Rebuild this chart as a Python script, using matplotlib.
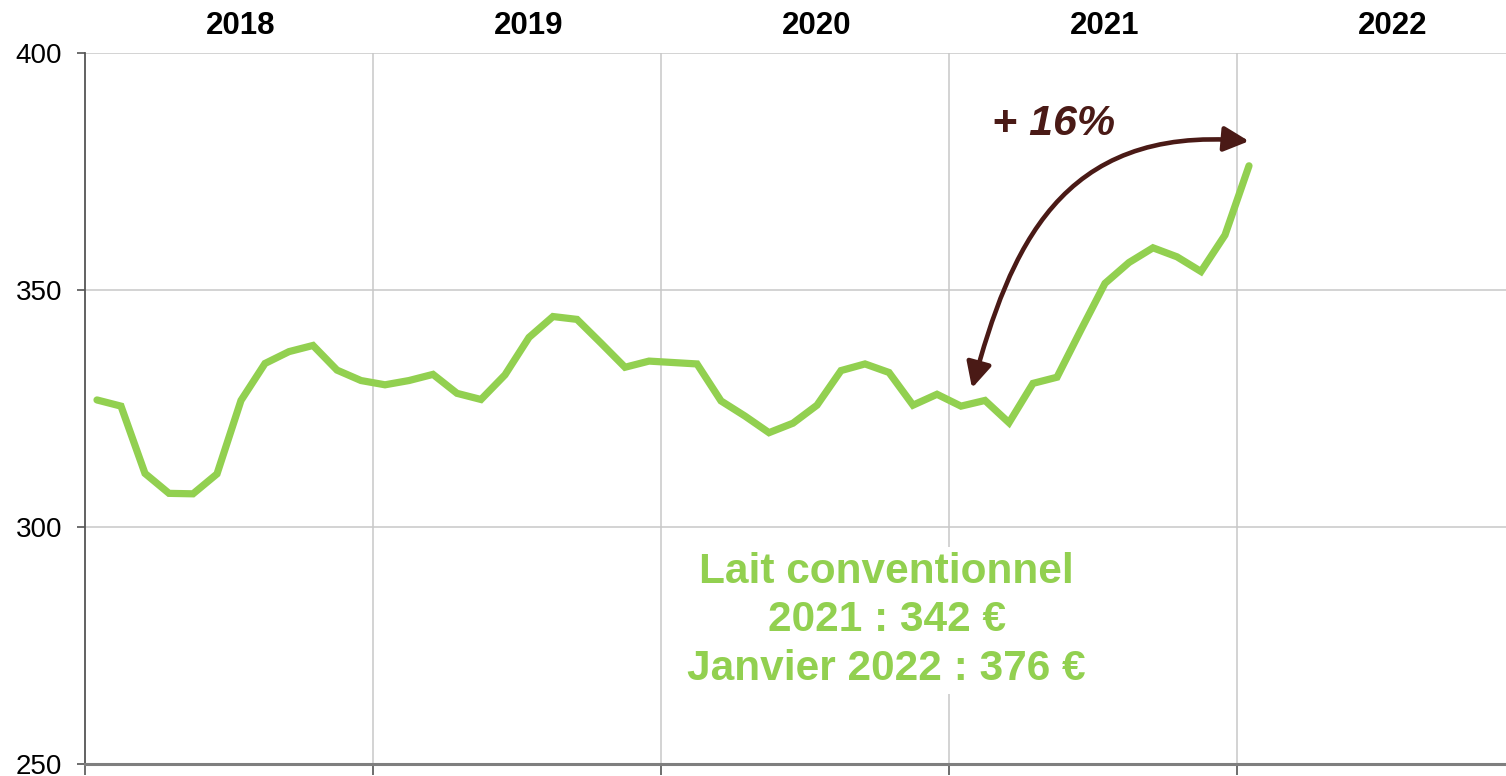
"""Monthly conventional milk price, 2018 - January 2022."""

from matplotlib import pyplot
from matplotlib.patches import FancyArrowPatch
from matplotlib.path import Path
import matplotlib.transforms as mtransforms


# Monthly price (EUR / 1000 L), January 2018 -> January 2022.
prices = [326.8, 325.5, 311.3, 307.1, 307.0, 311.2, 326.7, 334.5, 337.0,
          338.3, 333.1, 330.9,
          330.0, 330.9, 332.2, 328.2, 326.9, 332.1, 340.0, 344.4, 343.8,
          338.8, 333.7, 335.0,
          334.7, 334.4, 326.6, 323.4, 319.9, 321.9, 325.7, 333.0, 334.4,
          332.6, 325.7, 328.0,
          325.5, 326.7, 322.0, 330.3, 331.6, 341.6, 351.4, 355.8, 358.9,
          357.0, 353.9, 361.6,
          376.2]
years = ['2018', '2019', '2020', '2021', '2022']
yticks = [250, 300, 350, 400]
label_lines = ['Lait conventionnel', '2021 : 342 €', 'Janvier 2022 : 376 €']
change_label = '+ 16%'

green = '#92D050'
brown = '#4A1A16'

pyplot.rc('font', family=['Liberation Sans', 'DejaVu Sans'])
fig = pyplot.figure(figsize=(15.06, 7.76), dpi=100)
ax = fig.add_axes([85 / 1506, 12 / 776, 1421 / 1506, 711 / 776])

months = list(range(len(prices)))
ax.plot(months, prices, color=green, linewidth=5.2, solid_joinstyle='miter',
        solid_capstyle='round', zorder=3)

# Axes, grid and ticks.
ax.set_xlim(-0.5, -0.5 + 1421 / 24)
ax.set_ylim(250, 400)
ax.set_yticks(yticks)
ax.set_yticklabels([str(v) for v in yticks], fontsize=20)
boundaries = [12 * k - 0.5 for k in range(len(years))]
ax.set_xticks(boundaries)
ax.set_xticklabels([])
ax.tick_params(axis='x', direction='out', length=8, width=1.2,
               color='#555555')
ax.tick_params(axis='y', direction='out', length=6, width=1.2,
               color='#555555', pad=10.5)
for b in boundaries[1:]:
    ax.axvline(b, color='#C8C8C8', linewidth=1.1, zorder=1)
for v in yticks[1:]:
    ax.axhline(v, color='#C8C8C8', linewidth=1.1, zorder=1)
for side in ['top', 'right']:
    ax.spines[side].set_visible(False)
ax.spines['left'].set_color('#555555')
ax.spines['left'].set_linewidth(1.3)
ax.spines['bottom'].set_color('#7F7F7F')
ax.spines['bottom'].set_linewidth(2.2)

# Year labels above the plot.
trans = mtransforms.blended_transform_factory(ax.transData, ax.transAxes)
for k, year in enumerate(years):
    ax.text(12 * k + 6, 1.038, year, transform=trans, ha='center',
            va='center', fontsize=22.5, fontweight='bold', clip_on=False)

# Legend-like text box.
ax.text(32.9, 280.3, '\n'.join(label_lines), ha='center', va='center',
        fontsize=30.5, fontweight='bold', color=green, linespacing=1.27,
        bbox=dict(facecolor='white', edgecolor='none', pad=4), zorder=4)

# Curved double arrow and change label.
arrow_path = Path([(36.46, 329.3), (38.04, 358.4), (40.1, 384.8),
                   (48.0, 381.4)],
                  [Path.MOVETO, Path.CURVE4, Path.CURVE4, Path.CURVE4])
arrow = FancyArrowPatch(path=arrow_path, arrowstyle='<|-|>',
                        mutation_scale=38, color=brown, linewidth=3.3,
                        zorder=5)
ax.add_patch(arrow)
ax.text(37.3, 385.0, change_label, ha='left', va='center', fontsize=31,
        fontweight='bold', fontstyle='italic', color=brown)

fig.savefig('out.png', dpi=100)
